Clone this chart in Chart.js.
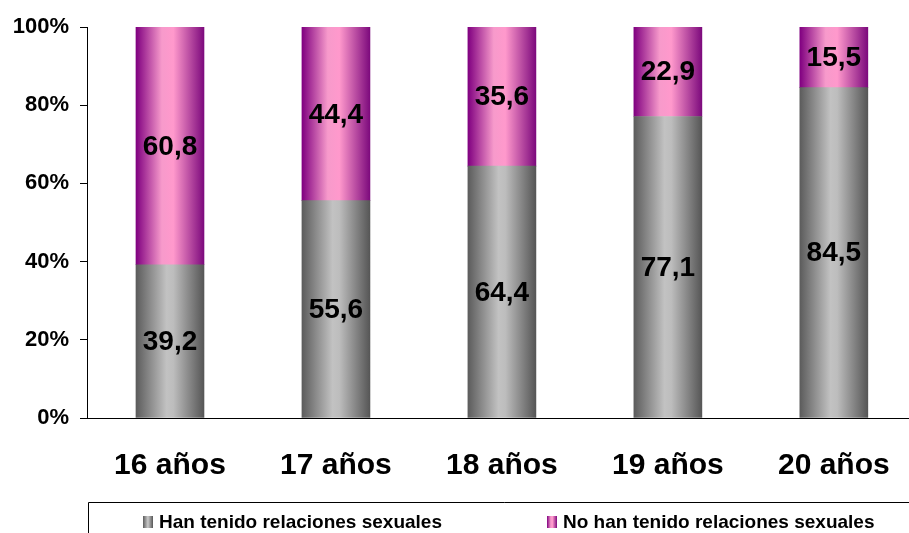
<!DOCTYPE html>
<html>
<head>
<meta charset="utf-8">
<script src="https://cdn.jsdelivr.net/npm/chart.js@4.4.1/dist/chart.umd.min.js"></script>
<style>
  html, body { margin: 0; padding: 0; background: #fff; overflow: hidden; }
  canvas { display: block; }
</style>
</head>
<body>
<canvas id="myChart" width="920" height="533"></canvas>
<script>
// data
var categories = ["16 años", "17 años", "18 años", "19 años", "20 años"];
var seriesNames = ["Han tenido relaciones sexuales", "No han tenido relaciones sexuales"];
var hanTenido = [39.2, 55.6, 64.4, 77.1, 84.5];
var noHanTenido = [60.8, 44.4, 35.6, 22.9, 15.5];
var yTicks = [0, 20, 40, 60, 80, 100];

var FONT = "'Liberation Sans', Arial, sans-serif";
var HALF_BAR = 34;

function greyGrad(c, x0, x1) {
    var g = c.createLinearGradient(x0, 0, x1, 0);
    g.addColorStop(0, '#5c5c5c');
    g.addColorStop(0.45, '#c2c2c2');
    g.addColorStop(0.55, '#bdbdbd');
    g.addColorStop(1, '#565656');
    return g;
}

function pinkGrad(c, x0, x1) {
    var g = c.createLinearGradient(x0, 0, x1, 0);
    g.addColorStop(0, '#800080');
    g.addColorStop(0.38, '#f79acb');
    g.addColorStop(0.55, '#ff99cc');
    g.addColorStop(1, '#7d0a7d');
    return g;
}

function barFill(makeGrad, fallback) {
    return function(context) {
        var chart = context.chart;
        if (!chart.chartArea || !chart.scales.x) return fallback;
        var cx = chart.scales.x.getPixelForValue(context.dataIndex);
        return makeGrad(chart.ctx, cx - HALF_BAR, cx + HALF_BAR);
    };
}

// value labels in the middle of each segment
var valueLabels = {
    id: 'valueLabels',
    afterDatasetsDraw: function(chart) {
        var c = chart.ctx;
        c.save();
        c.font = 'bold 28px ' + FONT;
        c.fillStyle = '#000';
        c.textAlign = 'center';
        c.textBaseline = 'middle';
        chart.data.datasets.forEach(function(ds, i) {
            var meta = chart.getDatasetMeta(i);
            meta.data.forEach(function(el, j) {
                var txt = ds.data[j].toFixed(1).replace('.', ',');
                c.fillText(txt, el.x, (el.y + el.base) / 2 + 1);
            });
        });
        c.restore();
    }
};

// legend box like the excel one, open at the bottom and right
var boxLegend = {
    id: 'boxLegend',
    afterDraw: function(chart) {
        var c = chart.ctx;
        var left = chart.chartArea.left + 1;
        var top = 502;
        c.save();
        c.strokeStyle = '#000';
        c.lineWidth = 1;
        c.beginPath();
        c.moveTo(left + 0.5, chart.height);
        c.lineTo(left + 0.5, top + 0.5);
        c.lineTo(chart.width, top + 0.5);
        c.stroke();

        var items = [
            {x: 143, grad: greyGrad, text: seriesNames[0]},
            {x: 547, grad: pinkGrad, text: seriesNames[1]}
        ];
        var yMid = 522;
        c.font = 'bold 19px ' + FONT;
        c.textAlign = 'left';
        c.textBaseline = 'middle';
        items.forEach(function(it) {
            c.fillStyle = it.grad(c, it.x, it.x + 10);
            c.fillRect(it.x, yMid - 6, 10, 12);
            c.fillStyle = '#000';
            c.fillText(it.text, it.x + 16, yMid + 1);
        });
        c.restore();
    }
};

var ctx = document.getElementById('myChart');
var myChart = new Chart(ctx, {
    type: 'bar',
    data: {
        labels: categories,
        datasets: [{
            label: seriesNames[0],
            data: hanTenido,
            backgroundColor: barFill(greyGrad, '#999'),
            barThickness: HALF_BAR * 2
        }, {
            label: seriesNames[1],
            data: noHanTenido,
            backgroundColor: barFill(pinkGrad, '#e070c0'),
            barThickness: HALF_BAR * 2
        }]
    },
    options: {
        responsive: false,
        animation: false,
        devicePixelRatio: 1,
        layout: {
            padding: {top: 27, right: 3, bottom: 0, left: 0}
        },
        plugins: {
            legend: {display: false},
            tooltip: {enabled: false}
        },
        scales: {
            x: {
                stacked: true,
                grid: {display: false, drawTicks: false},
                border: {display: true, color: '#000', width: 1},
                ticks: {
                    color: '#000',
                    padding: 30,
                    font: {family: FONT, size: 30, weight: 'bold'}
                },
                afterFit: function(scale) { scale.height = 115; }
            },
            y: {
                stacked: true,
                min: 0,
                max: 100,
                afterBuildTicks: function(scale) {
                    scale.ticks = yTicks.map(function(v) { return {value: v}; });
                },
                grid: {
                    drawOnChartArea: false,
                    drawTicks: true,
                    tickLength: 7,
                    color: '#000'
                },
                border: {display: true, color: '#000', width: 1},
                ticks: {
                    color: '#000',
                    padding: 11,
                    font: {family: FONT, size: 22, weight: 'bold'},
                    callback: function(v) { return v + '%'; }
                },
                afterFit: function(scale) { scale.width = 87; }
            }
        }
    },
    plugins: [valueLabels, boxLegend]
});
</script>
</body>
</html>
